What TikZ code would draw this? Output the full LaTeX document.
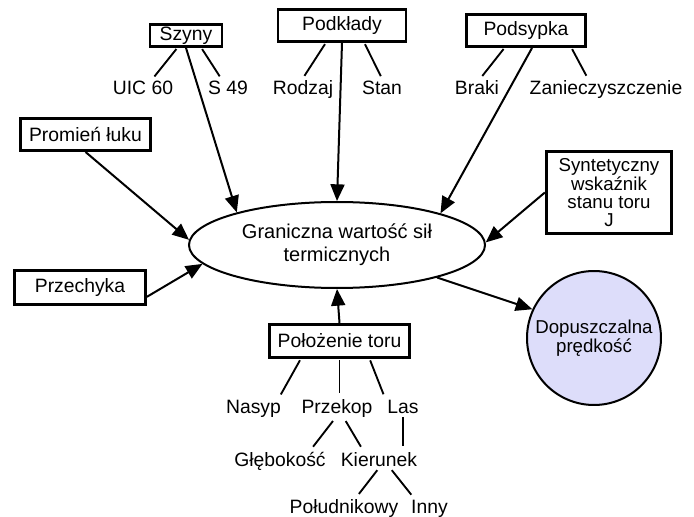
\documentclass[tikz,border=0pt]{standalone}
\usepackage{fontspec}
\setmainfont{Liberation Sans}
\usetikzlibrary{arrows.meta, positioning, shapes.geometric}
\definecolor{lawenda}{RGB}{221,221,250}

\begin{document}
\begin{tikzpicture}[x=0.75pt, y=-0.75pt,
    font=\fontsize{14.5}{17}\selectfont,
    box/.style={draw, line width=2.2pt, inner sep=0pt},
    leaf/.style={anchor=base, inner sep=2pt},
    arr/.style={line width=1.5pt, -{Triangle[length=12.5pt, width=10.5pt]}},
    branch/.style={line width=1.4pt, shorten >=2pt, shorten <=1pt}]

    % 0. Rozmiar obrazka
    \useasboundingbox (0,0) rectangle (694,517);

    % 1. Wezel centralny i wynik
    \node[ellipse, draw, line width=1.5pt, minimum width=222pt, minimum height=64.5pt,
          align=center, font=\fontsize{15}{17.25}\selectfont] (graniczna) at (337,245)
          {Graniczna wartość sił\\termicznych};
    \node[circle, draw, line width=1.5pt, fill=lawenda, minimum size=97pt,
          align=center, font=\fontsize{14}{12.5}\selectfont] (dop) at (594,338)
          {Dopuszczalna\\prędkość};

    % 2. Czynniki w ramkach
    \node[box, minimum width=54pt, minimum height=16.5pt] (szyny) at (186,35.5) {Szyny};
    \node[box, minimum width=96pt, minimum height=24pt] (podklady) at (342,25.5) {Podkłady};
    \node[box, minimum width=89pt, minimum height=24pt] (podsypka) at (526,30.5) {Podsypka};
    \node[box, minimum width=97.5pt, minimum height=24pt] (promien) at (85.5,134.5) {Promień łuku};
    \node[box, minimum width=98pt, minimum height=25.5pt] (przechyka) at (80,287.5) {Przechyka};
    \node[box, minimum width=105pt, minimum height=25pt] (polozenie) at (339.5,341) {Położenie toru};
    \node[box, minimum width=94pt, minimum height=61.5pt, align=center,
          font=\fontsize{14}{13.2}\selectfont] (syntet) at (609,192.5)
          {Syntetyczny\\wskaźnik\\stanu toru\\J};

    % 3. Cechy (bez ramek)
    \node[leaf] (uic) at (143,95) {UIC 60};
    \node[leaf] (s49) at (228,95) {S 49};
    \node[leaf] (rodzaj) at (303,95) {Rodzaj};
    \node[leaf] (stan) at (382,95) {Stan};
    \node[leaf] (braki) at (477,95) {Braki};
    \node[leaf] (zan) at (606,95) {Zanieczyszczenie};
    \node[leaf] (nasyp) at (253.5,413) {Nasyp};
    \node[leaf] (przekop) at (337,413) {Przekop};
    \node[leaf] (las) at (403,413) {Las};
    \node[leaf] (glebokosc) at (280,466) {Głębokość};
    \node[leaf] (kierunek) at (379,466) {Kierunek};
    \node[leaf] (poludnikowy) at (344,513) {Południkowy};
    \node[leaf] (inny) at (429.5,513) {Inny};

    % 4. Strzalki do wezla centralnego
    \draw[arr] (szyny.south) -- (graniczna.162);
    \draw[arr] (podklady.south) -- (graniczna.north);
    \draw[arr] (podsypka.-71) -- (graniczna.17);
    \draw[arr] (promien.south) -- (graniczna.178);
    \draw[arr] (przechyka.-8) -- (graniczna.188);
    \draw[arr] (syntet.west) -- (graniczna.1);
    \draw[arr] (polozenie.north) -- (graniczna.south);
    \draw[arr] (graniczna.-18) -- (dop.155);

    % 5. Galezie
    \draw[branch] (szyny.235) -- (uic.45);
    \draw[branch] (szyny.-39) -- (s49.125);
    \draw[branch] (podklady.227) -- (rodzaj.north);
    \draw[branch] (podklady.-38) -- (stan.north);
    \draw[branch] (podsypka.219) -- (braki.70);
    \draw[branch] (podsypka.-21) -- (zan.147);
    \draw[branch] (polozenie.205) -- (nasyp.24);
    \draw[branch] (polozenie.south) -- (polozenie.south |- przekop.north);
    \draw[branch] (polozenie.-31) -- (las.north west);
    \draw[branch] (przekop.-105) -- (glebokosc.21);
    \draw[branch] (przekop.-56) -- (kierunek.149);
    \draw[branch] (las.south) -- (las.south |- kierunek.north);
    \draw[branch] (kierunek.-95) -- (poludnikowy.42);
    \draw[branch] (kierunek.-40) -- (inny.145);

\end{tikzpicture}
\end{document}
